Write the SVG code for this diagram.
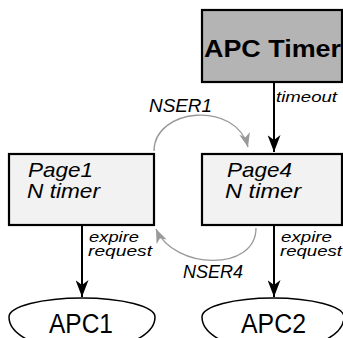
<svg xmlns="http://www.w3.org/2000/svg" width="343" height="338" viewBox="0 0 343 338">
<style>
text{font-family:"Liberation Sans",Arial,sans-serif;fill:#000}
.box{stroke:#000;stroke-width:2.2}
.it{font-style:italic}
.edge{stroke:#000;stroke-width:2;fill:none}
.gedge{stroke:#999;stroke-width:1.3;fill:none}
.ell{fill:#fff;stroke:#000;stroke-width:1.5}
</style>
<defs>
<marker id="ah" markerUnits="userSpaceOnUse" markerWidth="17" markerHeight="13" refX="17" refY="6.5" orient="auto" viewBox="0 0 17 13">
<path d="M0,0 L17,6.5 L0,13 L5,6.5 Z" fill="#000"/>
</marker>
<marker id="gh" markerUnits="userSpaceOnUse" markerWidth="14" markerHeight="11" refX="14" refY="5.5" orient="auto" viewBox="0 0 14 11">
<path d="M0,0 L14,5.5 L0,11 L4,5.5 Z" fill="#999"/>
</marker>
</defs>
<rect width="343" height="338" fill="#fff"/>
<g id="connectors">
<line class="edge" x1="274" y1="82" x2="274" y2="152" marker-end="url(#ah)"/>
<line class="edge" x1="82" y1="225" x2="82" y2="297" marker-end="url(#ah)"/>
<line class="edge" x1="274" y1="225" x2="274" y2="297" marker-end="url(#ah)"/>
<path class="gedge" d="M154,151 C154,108 236,100 248,147" marker-end="url(#gh)"/>
<path class="gedge" d="M256,228 C256,272 174,270 156,229" marker-end="url(#gh)"/>
<text class="it" x="276" y="102" font-size="15" textLength="61" lengthAdjust="spacingAndGlyphs">timeout</text>
<text class="it" x="149" y="112" font-size="18" textLength="63" lengthAdjust="spacingAndGlyphs" fill="#222">NSER1</text>
<text class="it" x="183" y="278" font-size="18" textLength="60" lengthAdjust="spacingAndGlyphs" fill="#222">NSER4</text>
<text class="it" x="89" y="242" font-size="14" textLength="50" lengthAdjust="spacingAndGlyphs">expire</text>
<text class="it" x="88" y="256" font-size="14" textLength="64" lengthAdjust="spacingAndGlyphs">request</text>
<text class="it" x="281" y="242" font-size="14" textLength="51" lengthAdjust="spacingAndGlyphs">expire</text>
<text class="it" x="280" y="256" font-size="14" textLength="62" lengthAdjust="spacingAndGlyphs">request</text>
</g>
<g id="apc-timer">
<rect class="box" x="202" y="10" width="140" height="72" fill="#b4b4b4"/>
<text x="204" y="57" font-size="24" font-weight="bold" textLength="137" lengthAdjust="spacingAndGlyphs">APC Timer</text>
</g>
<g id="page1">
<rect class="box" x="9" y="154" width="145" height="71" fill="#f2f2f2"/>
<text class="it" x="28" y="177" font-size="21" textLength="65" lengthAdjust="spacingAndGlyphs">Page1</text>
<text class="it" x="27" y="198" font-size="21" textLength="73" lengthAdjust="spacingAndGlyphs">N timer</text>
</g>
<g id="page4">
<rect class="box" x="202" y="154" width="140" height="71" fill="#f2f2f2"/>
<text class="it" x="227" y="177" font-size="21" textLength="65" lengthAdjust="spacingAndGlyphs">Page4</text>
<text class="it" x="225" y="198" font-size="21" textLength="76" lengthAdjust="spacingAndGlyphs">N timer</text>
</g>
<g id="apc1">
<path class="ell" d="M9,317 A73,19 0 0 1 155,317 A73,34 0 0 1 9,317 Z"/>
<text x="49" y="333" font-size="27" textLength="64" lengthAdjust="spacingAndGlyphs">APC1</text>
</g>
<g id="apc2">
<path class="ell" d="M202,317 A71,19 0 0 1 344,317 A71,34 0 0 1 202,317 Z"/>
<text x="241" y="333" font-size="27" textLength="65" lengthAdjust="spacingAndGlyphs">APC2</text>
</g>
</svg>
